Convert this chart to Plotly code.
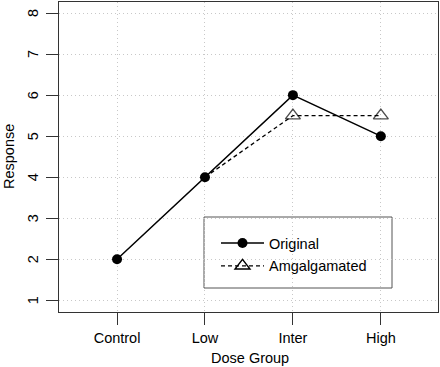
import plotly.graph_objects as go

categories = ["Control", "Low", "Inter", "High"]
original = [2, 4, 6, 5]
amalgamated = [None, 4, 5.5, 5.5]
y_ticks = [1, 2, 3, 4, 5, 6, 7, 8]

FONT = "Liberation Sans, Arial, Helvetica, sans-serif"
x_idx = list(range(len(categories)))

L, R, T, B = 59, 438, 2, 312
W, H = 440, 367
PW, PH = R - L, B - T


def px(x):
    return (x - L) / PW


def py(y):
    return (B - y) / PH


DASH = "4px,3px"

fig = go.Figure()
fig.add_trace(go.Scatter(
    x=x_idx, y=amalgamated, name="Amgalgamated", mode="lines+markers",
    line=dict(color="black", width=1.3, dash=DASH),
    marker=dict(symbol="triangle-up-open", size=[0, 0, 13, 13], color="black",
                line=dict(width=1.4, color="black")),
    showlegend=False,
))
fig.add_trace(go.Scatter(
    x=x_idx, y=original, name="Original", mode="lines+markers",
    line=dict(color="black", width=1.5),
    marker=dict(symbol="circle", size=10, color="black"),
    legendgroup="a",
))
fig.add_trace(go.Scatter(
    x=[None], y=[None], name="Amgalgamated", mode="lines+markers",
    line=dict(color="black", width=1.3, dash=DASH),
    marker=dict(symbol="triangle-up-open", size=13, color="black",
                line=dict(width=1.4, color="black")),
    legendgroup="b",
))

fig.add_shape(type="rect", xref="paper", yref="paper",
              x0=px(204), x1=px(392), y0=py(288), y1=py(217),
              line=dict(color="#555", width=1), fillcolor="white", layer="below")

# y tick labels (rotated, R style)
for v in y_ticks:
    fig.add_annotation(text=str(v), xref="paper", yref="y",
                       x=px(33), y=v, xanchor="center", yanchor="middle",
                       textangle=-90, showarrow=False, font=dict(size=14.5))

fig.add_annotation(text="Dose Group", xref="paper", yref="paper",
                   x=px(250), y=py(358), xanchor="center", yanchor="middle",
                   showarrow=False, font=dict(size=14.5))
fig.add_annotation(text="Response", xref="paper", yref="paper",
                   x=px(9), y=py(157), xanchor="center", yanchor="middle",
                   textangle=-90, showarrow=False, font=dict(size=14.5))

grid = dict(showgrid=True, gridcolor="#c8c8c8", griddash="1px,3px", gridwidth=1,
            showline=True, mirror=True, linecolor="#333", linewidth=1.2,
            ticks="outside", ticklen=12, tickcolor="#333", tickwidth=1.2,
            zeroline=False, automargin=False)

fig.update_layout(
    width=W, height=H,
    margin=dict(l=L, r=W - R, t=T, b=H - B),
    paper_bgcolor="white", plot_bgcolor="white",
    font=dict(family=FONT, size=14.5, color="black"),
    legend=dict(x=px(216), y=py(227), xanchor="left", yanchor="top",
                bgcolor="rgba(0,0,0,0)", borderwidth=0,
                font=dict(size=14.5), tracegroupgap=1, itemwidth=43),
    xaxis=dict(range=[-0.66, 3.65], tickmode="array", tickvals=x_idx,
               ticktext=categories, ticklabelstandoff=0, **grid),
    yaxis=dict(range=[0.715, 8.27], tickmode="array", tickvals=y_ticks,
               showticklabels=False, **grid),
)

fig.write_html("out.html", config={"displayModeBar": False},
               post_script="document.body.style.margin='0';document.body.style.overflow='hidden';")
